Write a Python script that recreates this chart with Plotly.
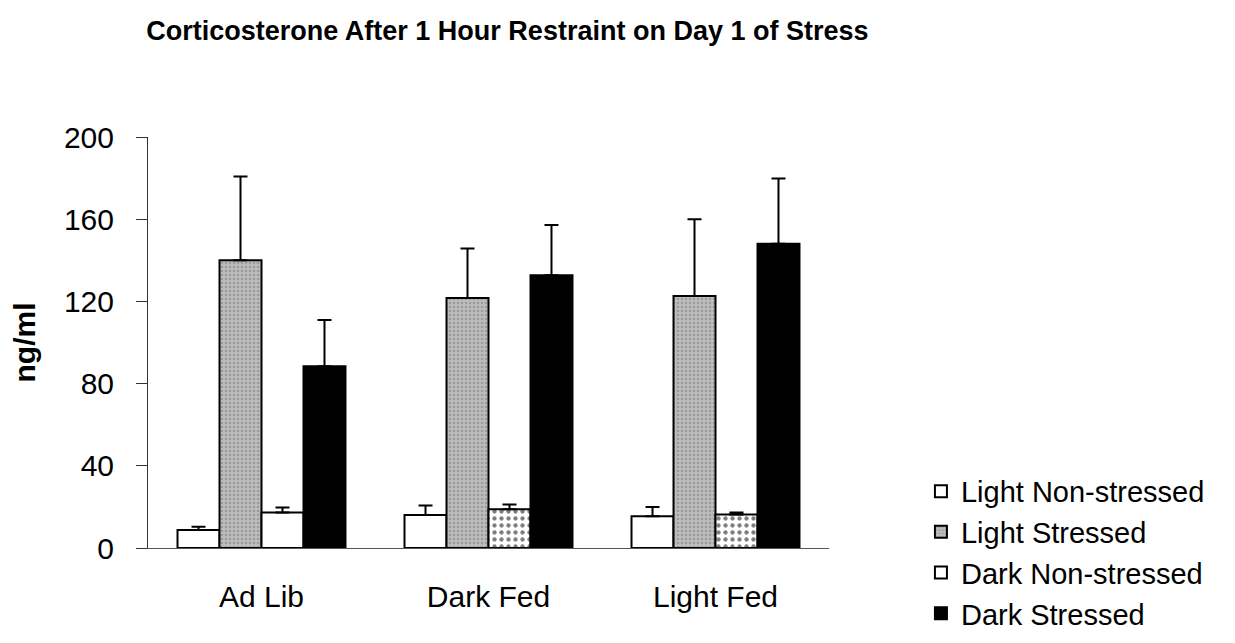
import plotly.graph_objects as go

groups = ["Ad Lib", "Dark Fed", "Light Fed"]

light_non = [8.7, 16.0, 15.4]
light_non_err = [1.6, 4.7, 4.6]
light_str = [140.0, 121.6, 122.6]
light_str_err = [40.8, 24.1, 37.4]
dark_non = [17.3, 18.8, 16.3]
dark_non_err = [2.4, 2.4, 1.0]
dark_str = [88.5, 132.7, 148.0]
dark_str_err = [22.5, 24.5, 31.8]

y_ticks = [0, 40, 80, 120, 160, 200]

FONT = "Liberation Sans, Arial, sans-serif"


def err(vals):
    return dict(type="data", array=vals, arrayminus=[0] * len(vals), symmetric=False,
                color="black", thickness=2, width=7)


fig = go.Figure()
fig.add_trace(go.Bar(
    name="Light Non-stressed", x=groups, y=light_non, error_y=err(light_non_err),
    marker=dict(color="white", line=dict(color="black", width=2))))
fig.add_trace(go.Bar(
    name="Light Stressed", x=groups, y=light_str, error_y=err(light_str_err),
    marker=dict(color="#b4b4b4", line=dict(color="black", width=2),
                pattern=dict(shape=".", fgcolor="#7a7a7a", bgcolor="#bdbdbd",
                             size=4, solidity=0.35))))
fig.add_trace(go.Bar(
    name="Dark Non-stressed", x=groups, y=dark_non, error_y=err(dark_non_err),
    marker=dict(color="white", line=dict(color="black", width=2),
                pattern=dict(shape=["", ".", "."], fgcolor="black", bgcolor="white",
                             size=7, solidity=0.3))))
fig.add_trace(go.Bar(
    name="Dark Stressed", x=groups, y=dark_str, error_y=err(dark_str_err),
    marker=dict(color="black", line=dict(color="black", width=2))))

fig.update_layout(
    width=1235, height=643,
    paper_bgcolor="white", plot_bgcolor="white",
    font=dict(family=FONT, size=30, color="black"),
    margin=dict(l=140, r=414, t=129, b=98),
    barmode="group", bargap=0.26, bargroupgap=0,
    title=dict(text="<b>Corticosterone After 1 Hour Restraint on Day 1 of Stress</b>",
               font=dict(size=27), x=0.112, xanchor="left", xref="container",
               y=0.965, yanchor="middle", yref="container"),
    showlegend=True,
    legend=dict(x=1.135, xanchor="left", y=0.2, yanchor="top",
                font=dict(size=29), traceorder="normal", bgcolor="rgba(0,0,0,0)"),
)
fig.update_xaxes(showline=True, linecolor="#555", linewidth=1, ticks="",
                 ticklabelstandoff=22, range=[-0.5, 2.5], showgrid=False)
fig.update_yaxes(range=[0, 200], tickvals=y_ticks, showline=True, linecolor="#333",
                 linewidth=1, ticks="outside", ticklen=11, tickcolor="#333",
                 ticklabelstandoff=16, showgrid=False, zeroline=False,
                 title=dict(text="<b>ng/ml</b>", font=dict(size=30), standoff=24))

fig.write_html("out.html")
